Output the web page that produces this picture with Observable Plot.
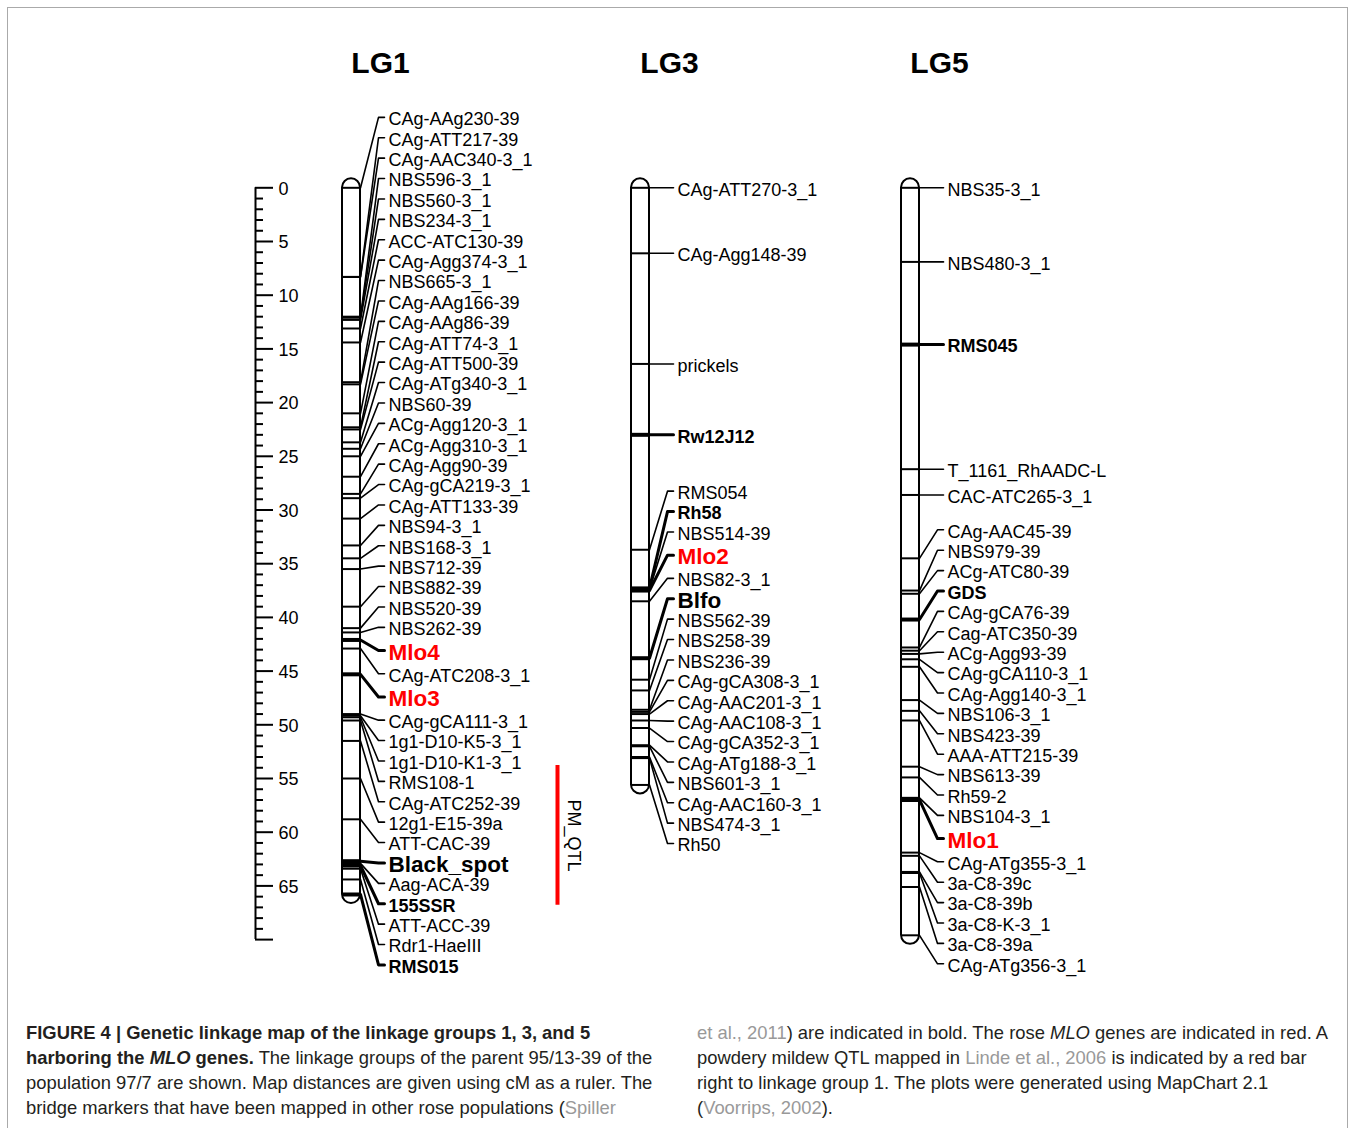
<!DOCTYPE html>
<html><head><meta charset="utf-8">
<script src="https://cdn.jsdelivr.net/npm/d3@7"></script>
<script src="https://cdn.jsdelivr.net/npm/@observablehq/plot@0.6"></script>
<style>
html,body{margin:0;padding:0;background:#fff;}
body{width:1356px;height:1128px;position:relative;overflow:hidden;font-family:"Liberation Sans",Arial,Helvetica,sans-serif;}
#frame{position:absolute;left:7px;top:7px;width:1341px;height:1200px;border:1.5px solid #aaa;box-sizing:border-box;}
#chart{position:absolute;left:0;top:0;}
.cap{position:absolute;top:1020px;font-size:18.4px;line-height:25px;white-space:nowrap;color:#231f20;}
.g{color:#999;}
</style></head><body>
<div id="frame"></div>
<div id="chart"></div>
<div class="cap" style="left:26px"><b>FIGURE 4 | Genetic linkage map of the linkage groups 1, 3, and 5</b><br><b>harboring the <i>MLO</i> genes.</b> The linkage groups of the parent 95/13-39 of the<br>population 97/7 are shown. Map distances are given using cM as a ruler. The<br>bridge markers that have been mapped in other rose populations (<span class="g">Spiller</span></div>
<div class="cap" style="left:697px"><span class="g">et al., 2011</span>) are indicated in bold. The rose <i>MLO</i> genes are indicated in red. A<br>powdery mildew QTL mapped in <span class="g">Linde et al., 2006</span> is indicated by a red bar<br>right to linkage group 1. The plots were generated using MapChart 2.1<br>(<span class="g">Voorrips, 2002</span>).</div>
<script>
// ---------------- data ----------------
const lg1Names = ["CAg-AAg230-39","CAg-ATT217-39","CAg-AAC340-3_1","NBS596-3_1","NBS560-3_1","NBS234-3_1","ACC-ATC130-39","CAg-Agg374-3_1","NBS665-3_1","CAg-AAg166-39","CAg-AAg86-39","CAg-ATT74-3_1","CAg-ATT500-39","CAg-ATg340-3_1","NBS60-39","ACg-Agg120-3_1","ACg-Agg310-3_1","CAg-Agg90-39","CAg-gCA219-3_1","CAg-ATT133-39","NBS94-3_1","NBS168-3_1","NBS712-39","NBS882-39","NBS520-39","NBS262-39","Mlo4","CAg-ATC208-3_1","Mlo3","CAg-gCA111-3_1","1g1-D10-K5-3_1","1g1-D10-K1-3_1","RMS108-1","CAg-ATC252-39","12g1-E15-39a","ATT-CAC-39","Black_spot","Aag-ACA-39","155SSR","ATT-ACC-39","Rdr1-HaeIII","RMS015"];
const lg1Pos = [0,8.3,8.3,12.0,12.1,12.3,13.1,14.4,18.1,18.3,21.0,22.3,22.5,23.7,24.3,25.0,26.9,28.5,28.9,30.8,33.3,34.5,35.5,39.0,41.0,41.4,42.1,42.9,45.3,49.0,49.15,49.3,49.6,51.5,55.0,58.8,62.7,62.9,63.1,63.4,64.4,65.8];
const lg1Type = ["m","m","m","m","m","m","m","m","m","m","m","m","m","m","m","m","m","m","m","m","m","m","m","m","m","m","mlo","m","mlo","m","m","m","m","m","m","m","trait","m","bridge","m","m","bridge"];

const lg3Names = ["CAg-ATT270-3_1","CAg-Agg148-39","prickels","Rw12J12","RMS054","Rh58","NBS514-39","Mlo2","NBS82-3_1","Blfo","NBS562-39","NBS258-39","NBS236-39","CAg-gCA308-3_1","CAg-AAC201-3_1","CAg-AAC108-3_1","CAg-gCA352-3_1","CAg-ATg188-3_1","NBS601-3_1","CAg-AAC160-3_1","NBS474-3_1","Rh50"];
const lg3Pos = [0,6.1,16.4,23.0,33.7,37.3,37.4,37.5,38.5,43.8,45.8,46.8,48.6,48.8,49.0,49.6,50.3,51.9,52.0,53.0,53.1,55.6];
const lg3Type = ["m","m","m","bridge","m","bridge","m","mlo","m","trait","m","m","m","m","m","m","m","m","m","m","m","m"];

const lg5Names = ["NBS35-3_1","NBS480-3_1","RMS045","T_1161_RhAADC-L","CAC-ATC265-3_1","CAg-AAC45-39","NBS979-39","ACg-ATC80-39","GDS","CAg-gCA76-39","Cag-ATC350-39","ACg-Agg93-39","CAg-gCA110-3_1","CAg-Agg140-3_1","NBS106-3_1","NBS423-39","AAA-ATT215-39","NBS613-39","Rh59-2","NBS104-3_1","Mlo1","CAg-ATg355-3_1","3a-C8-39c","3a-C8-39b","3a-C8-K-3_1","3a-C8-39a","CAg-ATg356-3_1"];
const lg5Pos = [0,6.9,14.6,26.2,28.6,34.5,37.5,37.8,40.2,42.8,43.1,43.4,43.9,44.6,47.7,48.7,49.6,53.9,54.9,56.8,57.0,61.9,62.2,63.7,63.8,65.1,69.6];
const lg5Type = ["m","m","bridge","m","m","m","m","m","bridge","m","m","m","m","m","m","m","m","m","m","m","mlo","m","m","m","m","m","m"];

const groupNames = ["LG1","LG3","LG5"];
const rulerLabels = [0,5,10,15,20,25,30,35,40,45,50,55,60,65];
const rulerMax = 70;
const qtlNames = ["PM_QTL"];
const qtlStart = [53.8];
const qtlEnd = [66.8];

// ---------------- layout / styles ----------------
const chromX = {LG1: 351, LG3: 640, LG5: 910};
const half = 9, rulerX = 255, qtlX = 557;
const yTop = 187.3, pxPerCM = 10.74;
const typeStyle = {
  m:      {size: 18,   weight: "normal", fill: "black",   h: 20.4, tick: 2,   conn: 1.5},
  bridge: {size: 18,   weight: "bold",   fill: "black",   h: 20.4, tick: 4,   conn: 3},
  trait:  {size: 22.5, weight: "bold",   fill: "black",   h: 20.4, tick: 4,   conn: 3},
  mlo:    {size: 22.5, weight: "bold",   fill: "#ff0000", h: 26,   tick: 4,   conn: 3}
};
const yScale = Plot.scale({y: {domain: [0, rulerMax], range: [yTop, yTop + pxPerCM * rulerMax]}});

function placeLabels(items) {
  items.forEach(it => { it.ideal = yScale.apply(it.pos); it.h = typeStyle[it.type].h; });
  let clusters = items.map(it => [it]);
  const place = c => {
    const offs = [0];
    for (let i = 1; i < c.length; i++) offs.push(offs[i - 1] + (c[i - 1].h + c[i].h) / 2);
    const span = offs[offs.length - 1];
    const mid = (c[0].ideal + c[c.length - 1].ideal) / 2;
    c.forEach((it, i) => it.py = mid - span / 2 + offs[i]);
  };
  let changed = true;
  while (changed) {
    changed = false;
    clusters.forEach(place);
    for (let i = 0; i < clusters.length - 1; i++) {
      const a = clusters[i], b = clusters[i + 1];
      const la = a[a.length - 1], fb = b[0];
      if (fb.py - la.py < (la.h + fb.h) / 2 - 1e-6) {
        clusters.splice(i, 2, a.concat(b));
        changed = true;
        break;
      }
    }
  }
  items.forEach(it => it.labelY = yScale.invert(it.py));
}

const groupData = [
  {name: "LG1", names: lg1Names, pos: lg1Pos, type: lg1Type},
  {name: "LG3", names: lg3Names, pos: lg3Pos, type: lg3Type},
  {name: "LG5", names: lg5Names, pos: lg5Pos, type: lg5Type}
];
const markers = [], chroms = [];
for (const g of groupData) {
  const cx = chromX[g.name];
  const items = g.names.map((n, i) => ({group: g.name, name: n, pos: g.pos[i], type: g.type[i], cx, id: g.name + "-" + i}));
  placeLabels(items);
  markers.push(...items);
  chroms.push({name: g.name, cx, length: d3.max(g.pos)});
}
const conn = markers.flatMap(m => [
  {id: m.id, type: m.type, x: m.cx + half, y: m.pos},
  {id: m.id, type: m.type, x: m.cx + half + 18, y: m.labelY},
  {id: m.id, type: m.type, x: m.cx + half + 24, y: m.labelY}
]);
const qtl = qtlNames.map((n, i) => ({name: n, start: qtlStart[i], end: qtlEnd[i]}));
const rulerTicks = d3.range(0, rulerMax + 1);

const textMarks = Object.keys(typeStyle).map(t => Plot.text(markers.filter(m => m.type === t), {
  x: d => d.cx + half + 28, y: "labelY", dy: 2, text: "name", textAnchor: "start",
  fontSize: typeStyle[t].size, fontWeight: typeStyle[t].weight, fill: typeStyle[t].fill
}));
const thin = new Set(["m"]);

const chart = Plot.plot({
  width: 1356, height: 1000,
  marginTop: 0, marginBottom: 0, marginLeft: 0, marginRight: 0,
  x: {domain: [0, 1356], range: [0, 1356], axis: null},
  y: {domain: [0, rulerMax], range: [yTop, yTop + pxPerCM * rulerMax], axis: null},
  style: {fontFamily: "'Liberation Sans', Arial, Helvetica, sans-serif", background: "transparent", color: "black"},
  marks: [
    // ruler
    Plot.ruleX([0], {x: rulerX, y1: 0, y2: rulerMax, stroke: "black", strokeWidth: 2}),
    Plot.ruleY(rulerTicks, {y: d => d, x1: rulerX, x2: d => d % 5 === 0 ? rulerX + 18 : rulerX + 8, stroke: "black", strokeWidth: 2}),
    Plot.text(rulerLabels, {y: d => d, x: rulerX + 23, dy: 1, text: d => String(d), textAnchor: "start", fontSize: 18, fill: "black"}),
    // titles
    Plot.text(chroms, {x: d => d.cx + 29, frameAnchor: "top", lineAnchor: "middle", dy: 63, text: "name", fontSize: 30, fontWeight: "bold", fill: "black"}),
    // chromosomes
    Plot.rect(chroms, {x1: d => d.cx - half, x2: d => d.cx + half, y1: 0, y2: "length", insetTop: -half, insetBottom: -half, rx: half, fill: "white", stroke: "black", strokeWidth: 2}),
    // marker ticks
    Plot.ruleY(markers, {y: "pos", x1: d => d.cx - half, x2: d => d.cx + half, stroke: "black", strokeWidth: d => typeStyle[d.type].tick}),
    // connectors
    Plot.line(conn.filter(d => thin.has(d.type)), {x: "x", y: "y", z: "id", stroke: "black", strokeWidth: 1.6}),
    Plot.line(conn.filter(d => !thin.has(d.type)), {x: "x", y: "y", z: "id", stroke: "black", strokeWidth: 3}),
    // labels
    ...textMarks,
    // QTL bar
    Plot.ruleX(qtl, {x: qtlX, y1: "start", y2: "end", stroke: "#ff0000", strokeWidth: 4}),
    Plot.text(qtl, {x: qtlX + 16, y: d => (d.start + d.end) / 2, text: "name", rotate: 90, fontSize: 18, fill: "black"})
  ]
});
document.getElementById("chart").appendChild(chart);
</script>
</body></html>
